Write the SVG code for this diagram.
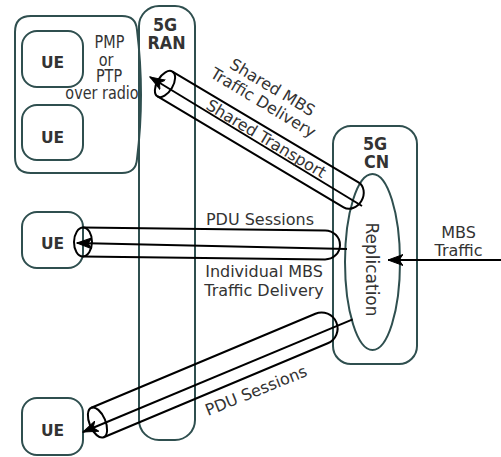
<svg xmlns="http://www.w3.org/2000/svg" width="501" height="457" viewBox="0 0 501 457">
  <style>
    .box { fill: none; stroke: #2f4f4f; stroke-width: 2; }
    .pipe { fill: none; stroke: #000; stroke-width: 2; }
    .arrow { fill: none; stroke: #000; stroke-width: 2; marker-end: url(#arr); }
    .t { font-family: "DejaVu Sans", "Liberation Sans", sans-serif; font-size: 16px; fill: #333; }
    .c { font-family: "DejaVu Sans Condensed", "DejaVu Sans", sans-serif; font-stretch: condensed; font-size: 16px; fill: #333; }
    .b { font-family: "DejaVu Sans", "Liberation Sans", sans-serif; font-size: 16px; font-weight: bold; fill: #333; }
    .u { font-size: 15.5px; }
    .m { text-anchor: middle; }
  </style>
  <defs>
    <marker id="arr" markerUnits="userSpaceOnUse" markerWidth="16" markerHeight="12" viewBox="0 0 16 12" refX="15" refY="6" orient="auto">
      <path d="M15,6 L0,0.5 L4,6 L0,11.5 Z" fill="#000" stroke="#000" stroke-width="1"/>
    </marker>
  </defs>

  <g id="ue-cluster">
    <path class="box" d="M31,16 L122,16 Q136,16 137,30 Q145,95 137,159 Q136,173 122,173 L31,173 Q15,173 15,157 L15,32 Q15,16 31,16 Z"/>
    <text class="c m" transform="translate(109.5,47.5) scale(1,1.12)">PMP</text>
    <text class="c m" transform="translate(106,65.5) scale(1,1.12)">or</text>
    <text class="c m" transform="translate(109,82) scale(1,1.12)">PTP</text>
    <text class="c m" transform="translate(102,99) scale(1,1.12)">over radio</text>
  </g>
  <g id="ue1">
    <rect class="box" x="22" y="31" width="61" height="56" rx="15"/>
    <text class="b u m" x="52.5" y="68">UE</text>
  </g>
  <g id="ue2">
    <rect class="box" x="22" y="105" width="61" height="55" rx="15"/>
    <text class="b u m" x="52.5" y="142.5">UE</text>
  </g>
  <g id="ue3">
    <rect class="box" x="22" y="212" width="61" height="56" rx="15"/>
    <text class="b u m" x="52.5" y="249">UE</text>
  </g>
  <g id="ue4">
    <rect class="box" x="22" y="398" width="61" height="57" rx="15"/>
    <text class="b u m" x="52.5" y="436">UE</text>
  </g>
  <g id="ran">
    <rect class="box" x="139" y="6" width="56" height="434" rx="20"/>
    <text class="b m" transform="translate(165,31) scale(1,1.07)">5G</text>
    <text class="b m" transform="translate(166.5,49) scale(1,1.07)">RAN</text>
  </g>
  <g id="cn">
    <rect class="box" x="333" y="126" width="84" height="238" rx="18"/>
    <text class="b m" transform="translate(375,149.5) scale(1,1.07)">5G</text>
    <text class="b m" transform="translate(376.5,167.5) scale(1,1.07)">CN</text>
  </g>
  <g id="replication">
    <ellipse class="box" cx="372.5" cy="262" rx="27.5" ry="88"/>
    <text class="t m" transform="translate(366,269.5) rotate(90)" x="0" y="0" style="font-size:17px">Replication</text>
  </g>

  <g id="connectors">
    <g id="pipe-shared" transform="translate(165,84) rotate(30.8)">
      <path class="pipe" d="M0,-14.5 L216.6,-14.5 A12,14.5 0 0 1 216.6,14.5 L0,14.5"/>
      <ellipse class="pipe" cx="0" cy="0" rx="8" ry="14.5"/>
    </g>
    <g id="pipe-pdu1" transform="translate(83,242) rotate(0.7)">
      <path class="pipe" d="M0,-14.5 L242,-14.5 A15,14.5 0 0 1 242,14.5 L0,14.5"/>
      <ellipse class="pipe" cx="0" cy="0" rx="9" ry="14.5"/>
    </g>
    <g id="pipe-pdu2" transform="translate(97.5,422.5) rotate(-22.76)">
      <path class="pipe" d="M0,-16 L243,-16 A16,16 0 0 1 243,16 L0,16"/>
      <ellipse class="pipe" cx="0" cy="0" rx="8" ry="16"/>
    </g>
    <line class="arrow" x1="362" y1="206" x2="150" y2="77"/>
    <line class="arrow" x1="347" y1="249" x2="77" y2="243"/>
    <line class="arrow" x1="352.7" y1="319.3" x2="83" y2="432"/>
    <line class="arrow" x1="501" y1="260" x2="388" y2="260"/>
  </g>

  <g id="labels">
    <g transform="translate(268,94.7) rotate(31)">
      <text class="t m" x="0" y="-3.2">Shared MBS</text>
      <text class="t m" x="0" y="14.8">Traffic Delivery</text>
    </g>
    <text class="t m" transform="translate(266.5,138.3) rotate(31)" x="0" y="6">Shared Transport</text>
    <text class="t m" x="260" y="225">PDU Sessions</text>
    <text class="t m" x="264" y="277">Individual MBS</text>
    <text class="t m" x="264" y="296">Traffic Delivery</text>
    <text class="t" transform="translate(208,416) rotate(-22)" x="0" y="0">PDU Sessions</text>
    <text class="t m" x="458.5" y="238">MBS</text>
    <text class="t m" x="458.5" y="256">Traffic</text>
  </g>
</svg>
